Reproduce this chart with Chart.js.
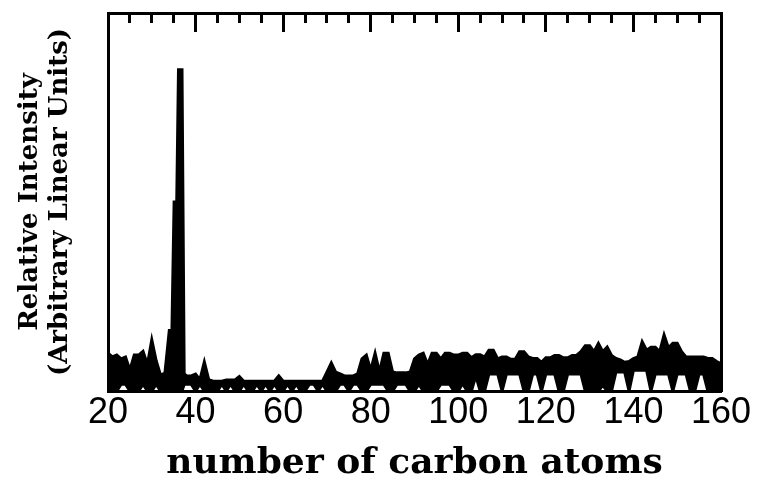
<!DOCTYPE html>
<html>
<head>
<meta charset="utf-8">
<script src="https://cdn.jsdelivr.net/npm/chart.js@4/dist/chart.umd.min.js"></script>
<style>
  body { margin: 0; background: #fff; }
  #spectrum { display: block; }
</style>
</head>
<body>
<canvas id="spectrum" width="764" height="486"></canvas>
<script>
// carbon cluster size (x) and read-off intensities
// (a few extra points around the big peak so its narrow shape comes through)
const carbons = [
  20, 21, 22, 23, 24, 25, 26, 27, 28, 29,
  30, 31, 32, 33, 34, 34.6, 35.1, 35.7, 36.1, 36.9, 37.4, 38, 39,
  40, 41, 42, 43, 44, 45, 46, 47, 48, 49,
  50, 51, 52, 53, 54, 55, 56, 57, 58, 59,
  60, 61, 62, 63, 64, 65, 66, 67, 68, 69,
  70, 71, 72, 73, 74, 75, 76, 77, 78, 79,
  80, 81, 82, 83, 84, 85, 86, 87, 88, 89,
  90, 91, 92, 93, 94, 95, 96, 97, 98, 99,
  100, 101, 102, 103, 104, 105, 106, 107, 108, 109,
  110, 111, 112, 113, 114, 115, 116, 117, 118, 119,
  120, 121, 122, 123, 124, 125, 126, 127, 128, 129,
  130, 131, 132, 133, 134, 135, 136, 137, 138, 139,
  140, 141, 142, 143, 144, 145, 146, 147, 148, 149,
  150, 151, 152, 153, 154, 155, 156, 157, 158, 159, 160
];

// upper envelope of the noisy trace
const upperTrace = [
  10, 9, 9.5, 8.5, 9, 5.5, 9.5, 9.5, 10.5, 7,
  13.5, 8, 4.2, 4.7, 16, 16, 50, 50, 85, 85, 4.5, 4, 4,
  4.5, 3, 7.7, 3, 2.6, 2.6, 2.6, 2.9, 2.9, 2.9,
  3.8, 2.6, 2.6, 2.6, 2.6, 2.6, 2.6, 2.6, 2.6, 4,
  2.6, 2.6, 2.6, 2.6, 2.6, 2.6, 2.6, 2.6, 2.6, 2.6,
  5, 7.4, 5, 4.5, 4, 4, 4, 4.5, 8.5, 9.5,
  5.5, 10, 5, 10, 10, 5, 4.8, 4.8, 4.8, 5,
  8.5, 9.5, 10, 7, 10, 10, 8.5, 10, 10, 9.5,
  9.5, 10, 10, 8.8, 9.6, 9.6, 9, 10.8, 10.8, 8.5,
  9, 9, 8.4, 8.4, 10.4, 10.4, 9, 8.6, 8.6, 7.6,
  8.8, 8.8, 9.4, 9.4, 8.8, 8.8, 9.4, 9.4, 10.4, 12,
  12, 10.4, 12.6, 10.4, 11.6, 9.4, 8.6, 8.2, 7.6, 7.8,
  8.6, 9, 13, 10.8, 11.6, 11.6, 10.4, 14.8, 11.4, 12.6,
  12.6, 10.4, 9, 9, 9, 9, 9, 8.6, 8.6, 7.8, 7.2
];

// lower trace (the gaps under the band)
const lowerTrace = [
  0, 0, 0, 1.8, 1.8, 0, 0, 0, 1.8, 0,
  0, 1.8, 0, 0, 0, 0, 0, 0, 0, 0, 1.8, 1.8, 1.8,
  0, 1.8, 0, 0, 0, 0, 1.8, 0, 1.8, 0,
  0, 1.8, 0, 0, 1.8, 0, 1.8, 0, 1.8, 0,
  0, 1.8, 0, 1.8, 0, 0, 1.8, 1.8, 0, 1.8,
  0, 0, 0, 1.8, 1.8, 0, 1.8, 1.8, 0, 0,
  1.8, 1.8, 1.8, 1.8, 0, 0, 1.8, 1.8, 1.8, 0,
  0, 1.8, 0, 0, 0, 0, 1.8, 1.8, 1.8, 0,
  0, 2, 0, 0, 4, 0, 0, 4.5, 4.5, 4.5,
  0, 4.5, 4.5, 4.5, 4.5, 0, 0, 4.5, 4.5, 0,
  4.5, 4.5, 4.5, 0, 0, 4.5, 4.5, 4.5, 4.5, 0,
  0, 0, 0, 1.5, 0, 0, 5, 5, 5, 0,
  5.5, 5.5, 5.5, 5.5, 0, 4.5, 4.5, 4.5, 4.5, 0,
  4.5, 4.5, 4.5, 0, 0, 4.5, 4.5, 0, 0, 0, 0
];

const xTicks = [20, 40, 60, 80, 100, 120, 140, 160];

const toPoints = vals => carbons.map((c, i) => ({ x: c, y: vals[i] }));

const ctx = document.getElementById('spectrum').getContext('2d');

new Chart(ctx, {
  type: 'line',
  data: {
    datasets: [{
      label: 'upper',
      data: toPoints(upperTrace),
      borderColor: '#000',
      backgroundColor: '#000',
      borderWidth: 3,
      pointRadius: 0,
      tension: 0,
      fill: '+1'
    }, {
      label: 'lower',
      data: toPoints(lowerTrace),
      borderColor: '#000',
      borderWidth: 3,
      pointRadius: 0,
      tension: 0,
      fill: false
    }]
  },
  options: {
    responsive: false,
    animation: false,
    layout: { padding: { top: 13, right: 43, bottom: 0, left: 0 } },
    plugins: { legend: { display: false }, tooltip: { enabled: false } },
    scales: {
      x: {
        type: 'linear',
        position: 'bottom',
        min: 20,
        max: 160,
        afterBuildTicks: s => { s.ticks = xTicks.map(v => ({ value: v })); },
        ticks: {
          autoSkip: false,
          maxRotation: 0,
          padding: 2,
          color: '#000',
          font: { family: 'Liberation Sans', size: 36, lineHeight: 1.1 }
        },
        grid: { drawOnChartArea: false, drawTicks: false },
        border: { display: true, color: '#000', width: 3 },
        title: {
          display: true,
          text: 'number of carbon atoms',
          color: '#000',
          padding: { top: 0, bottom: 1 },
          font: { family: 'DejaVu Serif', size: 36, weight: 'bold', lineHeight: 1.2 }
        },
        afterFit: s => { s.height = 95; }
      },
      xMinor: {
        type: 'linear',
        position: 'top',
        min: 20,
        max: 160,
        ticks: { display: false, stepSize: 5, maxTicksLimit: 60 },
        grid: { drawOnChartArea: false, drawTicks: true, tickLength: -10, tickWidth: 3, tickColor: '#000' },
        border: { display: true, color: '#000', width: 3 },
        afterFit: s => { s.height = 0; }
      },
      xMajor: {
        type: 'linear',
        position: 'top',
        min: 20,
        max: 160,
        ticks: { display: false, stepSize: 20 },
        grid: { drawOnChartArea: false, drawTicks: true, tickLength: -19, tickWidth: 3, tickColor: '#000' },
        border: { display: false },
        afterFit: s => { s.height = 0; }
      },
      y: {
        position: 'left',
        min: 0,
        max: 100,
        ticks: { display: false },
        grid: { drawOnChartArea: false, drawTicks: false },
        border: { display: true, color: '#000', width: 3 },
        title: {
          display: true,
          text: ['Relative Intensity', '(Arbitrary Linear Units)'],
          color: '#000',
          padding: { top: 15, bottom: 0 },
          font: { family: 'DejaVu Serif', size: 26, weight: 'bold', lineHeight: 1.15 }
        },
        afterFit: s => { s.width = 108; }
      },
      yRight: {
        position: 'right',
        min: 0,
        max: 100,
        ticks: { display: false },
        grid: { drawOnChartArea: false, drawTicks: false },
        border: { display: true, color: '#000', width: 3 },
        afterFit: s => { s.width = 0; }
      }
    }
  }
});
</script>
</body>
</html>
